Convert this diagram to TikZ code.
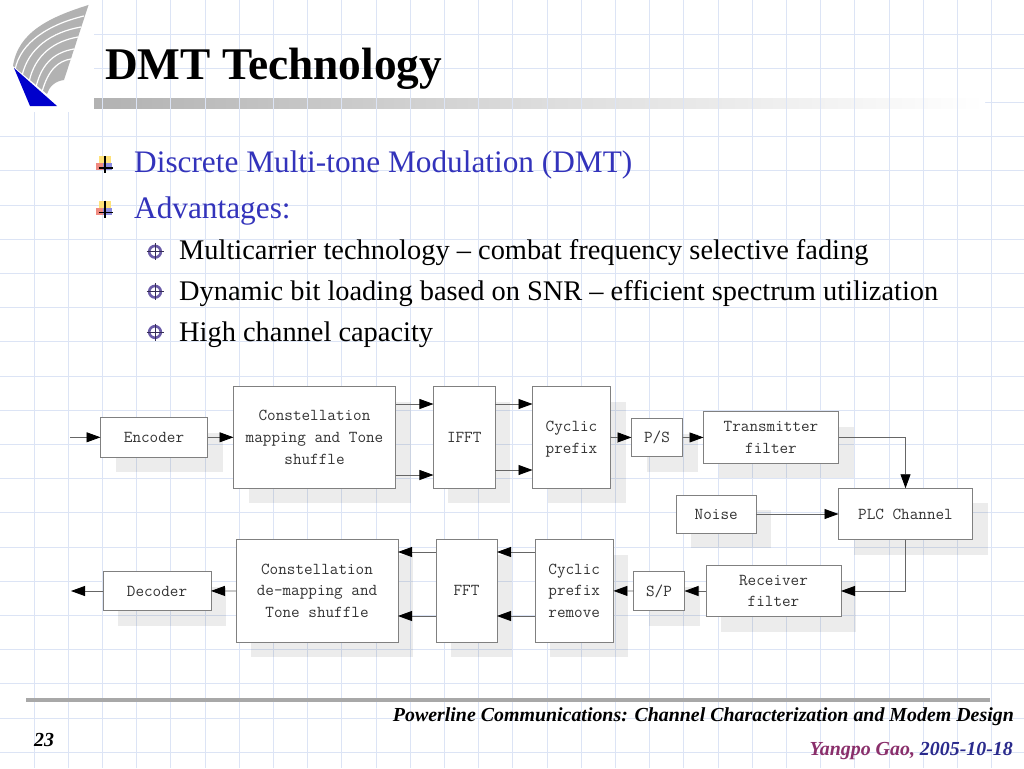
\documentclass[tikz,border=0pt]{standalone}
\usepackage{fontspec}
\setmainfont{Liberation Serif}
\usetikzlibrary{arrows.meta,shadows,calc}
\definecolor{gridc}{HTML}{DCE4F5}
\definecolor{bluet}{HTML}{3333BB}
\definecolor{boxline}{HTML}{808080}
\definecolor{boxtext}{HTML}{333333}
\definecolor{barc}{HTML}{B2B2B2}
\definecolor{bulp}{HTML}{6A5BA8}
\definecolor{bula}{HTML}{FFE27A}
\definecolor{bulb}{HTML}{F08A80}
\definecolor{bulc}{HTML}{8C8CE0}
\tikzset{
 block/.style={draw=boxline,line width=.9pt,fill=white,inner sep=0pt,outer sep=0pt,align=center,
   font=\fontsize{16.7}{21.7}\selectfont\ttfamily,text=boxtext,
   general shadow={fill=black,fill opacity=.075,draw=none,shadow xshift=15pt,shadow yshift=-15pt}},
 conn/.style={draw=black!60,line width=.8pt,-{Triangle[length=14pt,width=10pt,black]}},
 stripe/.style={draw=white,line width=1.2pt},
 gridline/.style={draw=gridc,line width=1.2pt},
 headline/.style={inner sep=0pt,anchor=base west,text=bluet,font=\fontsize{31.3}{31.3}\selectfont},
 subline/.style={inner sep=0pt,anchor=base west,text=black,font=\fontsize{28.4}{28.4}\selectfont},
 footline/.style={inner sep=0pt,font=\fontsize{19.9}{19.9}\selectfont\bfseries\itshape}
}
\newcommand{\bigbul}[1]{%
 \begin{scope}[shift={#1}]
  \fill[bula] (-5,-9) rectangle (7,0);
  \fill[bulb] (-8,-2) rectangle (0,5);
  \fill[bulc] (-1,-2) rectangle (8,5);
  \draw[black,line width=1.2pt] (-5,3) -- (9,3) (1,-9) -- (1,8);
 \end{scope}}
\newcommand{\smallbul}[1]{%
 \begin{scope}[shift={#1}]
  \draw[bulp,line width=2.6pt] (0,0) circle (5.8);
  \draw[bulp!50!black,line width=1pt] (-8.5,0) -- (8.5,0) (0,-8.5) -- (0,8.5);
 \end{scope}}
\begin{document}
\begin{tikzpicture}[x=1pt,y=-1pt]
\useasboundingbox (0,0) rectangle (1024,768);
\fill[white] (0,0) rectangle (1024,768);
% paper grid
\foreach \k in {1,...,22} \draw[gridline] (0,{floor(34.2*\k)+.5}) -- (1024,{floor(34.2*\k)+.5});
\fill[white] (94,96) rectangle (982,110);
\shade[left color=barc,right color=white,middle color=barc!45!white] (94,98) rectangle (985,108);
\foreach \k in {1,...,29} \draw[gridline] ({floor(34.2*\k)+.5},0) -- ({floor(34.2*\k)+.5},768);
% logo
\fill[white] (0,0) rectangle (94,112);
\fill[white] (94,0) rectangle (100,30);
\fill[barc] (88.5,5) .. controls (50,17) and (18,32) .. (13,66) -- (47,94) .. controls (49,87) and (55,81) .. (64,80) -- cycle;
\draw[stripe] (84,16) .. controls (50,24) and (20,42) .. (15,70);
\draw[stripe] (81,27) .. controls (52,32) and (28,48) .. (22,76);
\draw[stripe] (78,37) .. controls (55,41) and (35,54) .. (29,82);
\draw[stripe] (74,49) .. controls (56,52) and (42,62) .. (36,87);
\draw[stripe] (71,59) .. controls (58,61) and (48,70) .. (42,92);
\fill[blue!80!black] (14,68) -- (30,106) -- (57,106) -- cycle;
% title
\node[inner sep=0pt,anchor=base west,font=\fontsize{45.3}{45.3}\selectfont\bfseries] (title) at (105,79) {DMT Technology};
% bullets and text
\bigbul{(104,165)}
\bigbul{(104,209.7)}
\node[headline] (h1) at (134,172) {Discrete Multi-tone Modulation (DMT)};
\node[headline] (h2) at (134,218) {Advantages:};
\smallbul{(155,251.7)}
\smallbul{(155,291.7)}
\smallbul{(155,332)}
\node[subline] (s1) at (179,259) {Multicarrier technology – combat frequency selective fading};
\node[subline] (s2) at (179,300) {Dynamic bit loading based on SNR – efficient spectrum utilization};
\node[subline] (s3) at (179,341) {High channel capacity};
% blocks
\node[block,minimum width=107pt,minimum height=39.5pt] (enc) at (154,437.3) {Encoder};
\node[block,minimum width=162pt,minimum height=101.5pt] (con) at (314.5,437.3) {Constellation\\mapping and Tone\\shuffle};
\node[block,minimum width=61.5pt,minimum height=101.5pt] (ifft) at (464.2,437.3) {IFFT};
\node[block,text depth=0pt,minimum width=78pt,minimum height=101.5pt] (cyc) at (571.5,437.3) {Cyclic\\prefix};
\node[block,minimum width=51pt,minimum height=38pt] (ps) at (657,437.5) {P/S};
\node[block,minimum width=135pt,minimum height=51.5pt] (tx) at (771,437.3) {Transmitter\\filter};
\node[block,minimum width=79.5pt,minimum height=38pt] (noise) at (716.2,514) {Noise};
\node[block,minimum width=134pt,minimum height=51.5pt] (plc) at (905.5,514) {PLC Channel};
\node[block,minimum width=78.5pt,minimum height=102.5pt] (crm) at (574.2,590.8) {Cyclic\\prefix\\remove};
\node[block,minimum width=51pt,minimum height=39pt] (sp) at (659,591) {S/P};
\node[block,minimum width=135pt,minimum height=51pt] (rx) at (773.5,591) {Receiver\\filter};
\node[block,minimum width=61pt,minimum height=102.5pt] (fft) at (466.5,590.8) {FFT};
\node[block,minimum width=162pt,minimum height=102.5pt] (dem) at (317,590.8) {Constellation\\de-mapping and\\Tone shuffle};
\node[block,minimum width=108pt,minimum height=39pt] (dec) at (157,591) {Decoder};
\coordinate (inp) at (70,437.3);
\coordinate (outp) at (71,591);
% connectors
\draw[conn] (inp) -- (enc);
\draw[conn] (enc) -- (con);
\draw[conn] (con.east |- 0,404) -- (ifft.west |- 0,404);
\draw[conn] (con.east |- 0,475) -- (ifft.west |- 0,475);
\draw[conn] (ifft.east |- 0,404) -- (cyc.west |- 0,404);
\draw[conn] (ifft.east |- 0,470) -- (cyc.west |- 0,470);
\draw[conn] (cyc) -- (ps);
\draw[conn] (ps) -- (tx);
\draw[conn] (tx.east) -| (plc.north);
\draw[conn] (noise) -- (plc);
\draw[conn] (plc.south) |- (rx.east);
\draw[conn] (rx) -- (sp);
\draw[conn] (sp) -- (crm);
\draw[conn] (crm.west |- 0,552) -- (fft.east |- 0,552);
\draw[conn] (crm.west |- 0,616) -- (fft.east |- 0,616);
\draw[conn] (fft.west |- 0,552) -- (dem.east |- 0,552);
\draw[conn] (fft.west |- 0,616) -- (dem.east |- 0,616);
\draw[conn] (dem) -- (dec);
\draw[conn] (dec) -- (outp);
% footer
\fill[black!34] (26,698) rectangle (990,701.5);
\node[footline,anchor=base east,text=black] (ft1) at (1014,721) {Powerline Communications: Channel Characterization and Modem Design};
\node[footline,anchor=base west,text=black] (pg) at (34,746) {23};
\node[footline,anchor=base east] (ft2) at (1013,755) {\textcolor[HTML]{8A2F6B}{Yangpo Gao,} \textcolor[HTML]{2A2A8C}{2005-10-18}};
\end{tikzpicture}
\end{document}
